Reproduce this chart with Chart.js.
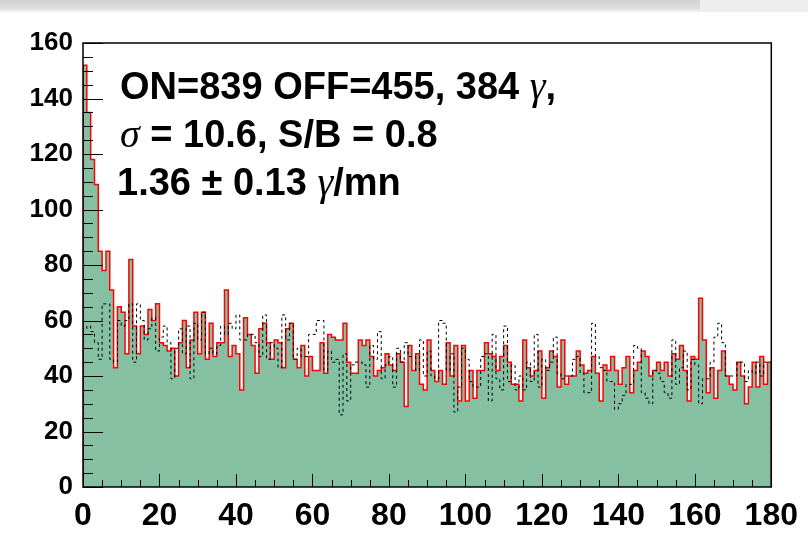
<!DOCTYPE html>
<html>
<head>
<meta charset="utf-8">
<script src="https://cdn.jsdelivr.net/npm/chart.js@4.4.1/dist/chart.umd.min.js"></script>
<style>
  html, body { margin: 0; padding: 0; background: #fff; }
  #wrap { width: 808px; height: 540px; }
</style>
</head>
<body>
<div id="wrap"><canvas id="c" width="808" height="540"></canvas></div>
<script>
// ON histogram (filled, red outline), one bin per unit, 0..180
const onCounts = [
  152, 135, 118, 109, 85, 78, 85, 71, 43, 65, 63, 48, 82, 58, 48, 58, 55, 64, 60, 66,
  52, 51, 49, 50, 40, 52, 60, 43, 53, 63, 48, 63, 46, 59, 47, 52, 52, 71, 47, 51,
  48, 35, 61, 55, 51, 41, 57, 59, 52, 46, 53, 52, 43, 57, 59, 46, 43, 51, 40, 47,
  42, 42, 52, 41, 55, 54, 53, 53, 59, 45, 41, 41, 53, 51, 53, 47, 40, 42, 43, 48,
  44, 42, 48, 45, 29, 51, 42, 48, 37, 35, 53, 42, 38, 42, 37, 52, 40, 51, 31, 51,
  31, 42, 32, 42, 42, 52, 48, 47, 42, 47, 51, 45, 37, 37, 31, 53, 43, 40, 42, 49,
  32, 43, 49, 47, 36, 53, 37, 40, 40, 49, 44, 41, 42, 47, 41, 31, 44, 42, 47, 42,
  37, 43, 47, 34, 42, 45, 49, 47, 40, 42, 45, 42, 45, 40, 48, 46, 51, 42, 31, 47,
  46, 68, 53, 34, 43, 32, 42, 49, 40, 37, 35, 45, 40, 30, 36, 45, 36, 47, 37, 45
];
// OFF histogram (dashed black)
const offCounts = [
  57, 58, 56, 52, 46, 66, 66, 46, 45, 60, 58, 60, 66, 45, 66, 60, 53, 57, 61, 49,
  54, 58, 52, 39, 50, 57, 48, 58, 39, 59, 53, 63, 48, 50, 48, 51, 58, 55, 59, 57,
  62, 53, 53, 55, 55, 52, 47, 62, 46, 52, 50, 43, 62, 53, 59, 46, 50, 47, 47, 55,
  55, 60, 60, 42, 49, 45, 46, 26, 48, 31, 44, 45, 45, 44, 36, 51, 46, 56, 39, 44,
  47, 36, 50, 45, 52, 47, 47, 42, 53, 40, 49, 40, 39, 60, 59, 42, 48, 27, 36, 50,
  46, 38, 36, 36, 47, 48, 31, 55, 39, 35, 58, 38, 44, 35, 40, 35, 45, 38, 55, 36,
  46, 42, 45, 54, 41, 39, 40, 40, 46, 47, 41, 34, 34, 59, 47, 43, 42, 38, 38, 28,
  30, 33, 37, 37, 51, 50, 34, 32, 30, 42, 41, 38, 34, 32, 53, 37, 43, 49, 35, 46,
  44, 30, 39, 39, 45, 54, 59, 52, 40, 40, 40, 45, 45, 38, 42, 41, 45, 40, 45, 45
];
const xTicks = [0, 20, 40, 60, 80, 100, 120, 140, 160, 180];
const yTicks = [0, 20, 40, 60, 80, 100, 120, 140, 160];

const GREEN = '#85c0a3';
const FONT = '"Liberation Sans", Arial, Helvetica, sans-serif';
const SERIF = '"Liberation Serif", "Times New Roman", serif';

// step outline points: left edge of each bin, closed down to zero at both ends
function histPoints(counts) {
  const pts = [{ x: 0, y: 0 }];
  counts.forEach((v, i) => pts.push({ x: i, y: v }));
  pts.push({ x: counts.length, y: counts[counts.length - 1] });
  pts.push({ x: counts.length, y: 0 });
  return pts;
}

const scanBand = {
  id: 'scanBand',
  beforeDraw(chart) {
    const ctx = chart.ctx;
    ctx.save();
    ctx.fillStyle = '#fff';
    ctx.fillRect(0, 0, chart.width, chart.height);
    const g = ctx.createLinearGradient(0, 0, 0, 15);
    g.addColorStop(0, 'rgba(170,170,170,0.55)');
    g.addColorStop(0.6, 'rgba(185,185,185,0.45)');
    g.addColorStop(1, 'rgba(255,255,255,0)');
    ctx.fillStyle = g;
    ctx.fillRect(0, 0, 700, 15);
    ctx.fillStyle = 'rgba(200,200,200,0.3)';
    ctx.fillRect(700, 0, 108, 12);
    ctx.restore();
  }
};

// ROOT-like frame with inward ticks
const frame = {
  id: 'frame',
  afterDatasetsDraw(chart) {
    const { ctx, chartArea: a, scales } = chart;
    ctx.save();
    ctx.strokeStyle = '#000';
    ctx.lineWidth = 1;
    ctx.beginPath();
    for (let v = 0; v <= 160; v += 5) {
      const y = Math.round(scales.y.getPixelForValue(v)) + 0.5;
      const len = v % 20 === 0 ? 20 : 10;
      ctx.moveTo(a.left, y);
      ctx.lineTo(a.left + len, y);
    }
    for (let v = 0; v <= 180; v += 5) {
      const x = Math.round(scales.x.getPixelForValue(v)) + 0.5;
      const len = v % 20 === 0 ? 13 : 7;
      ctx.moveTo(x, a.bottom);
      ctx.lineTo(x, a.bottom - len);
    }
    ctx.stroke();
    ctx.lineWidth = 1.5;
    ctx.strokeRect(a.left, a.top, a.right - a.left, a.bottom - a.top);
    ctx.restore();
  }
};

function drawRuns(ctx, x, y, runs) {
  runs.forEach(([text, font]) => {
    ctx.font = font;
    ctx.fillText(text, x, y);
    x += ctx.measureText(text).width;
  });
}

const stats = {
  id: 'stats',
  afterDraw(chart) {
    const ctx = chart.ctx;
    const sans = 'bold 38px ' + FONT;
    const greek = 'italic 40px ' + SERIF;
    ctx.save();
    ctx.fillStyle = '#000';
    ctx.textBaseline = 'alphabetic';
    drawRuns(ctx, 120, 99, [['ON=839 OFF=455, 384 ', sans], ['\u03b3', greek], [',', sans]]);
    drawRuns(ctx, 120, 147, [['\u03c3', greek], [' = 10.6, S/B = 0.8', sans]]);
    drawRuns(ctx, 117, 195, [['1.36 \u00b1 0.13 ', sans], ['\u03b3', greek], ['/mn', sans]]);
    ctx.restore();
  }
};

new Chart(document.getElementById('c').getContext('2d'), {
  type: 'line',
  data: {
    datasets: [
      {
        label: 'OFF',
        data: histPoints(offCounts),
        stepped: true,
        borderColor: '#000',
        borderWidth: 1,
        borderDash: [3, 3],
        pointRadius: 0,
        fill: false
      },
      {
        label: 'ON',
        data: histPoints(onCounts),
        stepped: true,
        borderColor: '#ff0000',
        borderWidth: 1.5,
        backgroundColor: GREEN,
        pointRadius: 0,
        fill: 'origin'
      }
    ]
  },
  options: {
    responsive: false,
    animation: false,
    events: [],
    layout: { padding: { top: 43, right: 35, left: 0, bottom: 0 } },
    plugins: { legend: { display: false }, tooltip: { enabled: false } },
    scales: {
      x: {
        type: 'linear',
        min: 0,
        max: 180,
        afterBuildTicks: (s) => { s.ticks = xTicks.map((v) => ({ value: v })); },
        afterFit: (s) => { s.height = 53; },
        grid: { display: false, drawTicks: false },
        border: { display: false },
        ticks: { color: '#000', padding: 10, maxRotation: 0, autoSkip: false, font: { family: FONT, size: 32, weight: 'bold' } }
      },
      y: {
        min: 0,
        max: 160,
        afterBuildTicks: (s) => { s.ticks = yTicks.map((v) => ({ value: v })); },
        afterFit: (s) => { s.width = 83; },
        grid: { display: false, drawTicks: false },
        border: { display: false },
        ticks: { color: '#000', padding: 10, autoSkip: false, font: { family: FONT, size: 26, weight: 'bold' } }
      }
    }
  },
  plugins: [scanBand, frame, stats]
});
</script>
</body>
</html>
